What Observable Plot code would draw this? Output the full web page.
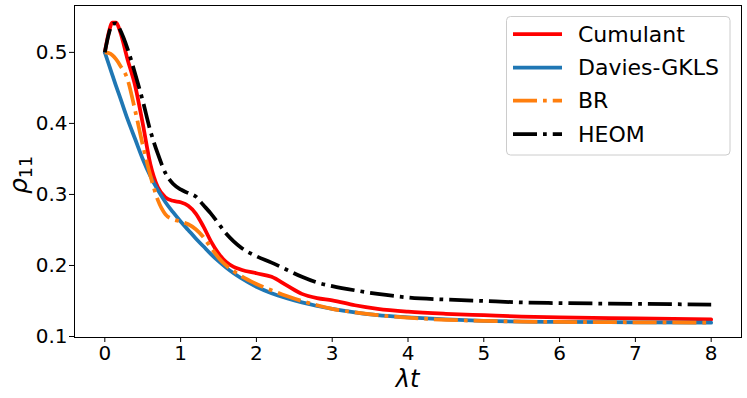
<!DOCTYPE html>
<html>
<head>
<meta charset="utf-8">
<script src="https://cdn.jsdelivr.net/npm/d3@7"></script>
<script src="https://cdn.jsdelivr.net/npm/@observablehq/plot@0.6"></script>
<style>
  html, body { margin: 0; padding: 0; background: #fff; }
  #chart { width: 747px; height: 398px; }
  svg { font-family: "DejaVu Sans", sans-serif; }
</style>
</head>
<body>
<div id="chart"></div>
<script>
// time grid (λt)
const tGrid = [0, 0.05, 0.1, 0.15, 0.2, 0.3, 0.4, 0.5, 0.6, 0.7, 0.8, 0.9, 1.0, 1.1, 1.2, 1.3, 1.4, 1.5, 1.6, 1.7, 1.8, 2.0, 2.2, 2.4, 2.6, 2.8, 3.0, 3.3, 3.6, 4.0, 4.5, 5.0, 5.5, 6.0, 7.0, 8.0];

const cumulant = [0.500, 0.527, 0.542, 0.542, 0.530, 0.490, 0.453, 0.400, 0.343, 0.310, 0.296, 0.291, 0.289, 0.284, 0.273, 0.255, 0.234, 0.217, 0.205, 0.198, 0.194, 0.189, 0.184, 0.172, 0.160, 0.154, 0.151, 0.144, 0.139, 0.135, 0.132, 0.130, 0.128, 0.127, 0.1255, 0.124];

const davies = [0.500, 0.484, 0.468, 0.452, 0.437, 0.406, 0.378, 0.350, 0.326, 0.306, 0.289, 0.275, 0.262, 0.250, 0.238, 0.227, 0.216, 0.206, 0.197, 0.189, 0.182, 0.170, 0.161, 0.154, 0.148, 0.143, 0.139, 0.134, 0.130, 0.127, 0.124, 0.122, 0.121, 0.1205, 0.120, 0.1195];

const br = [0.500, 0.499, 0.496, 0.490, 0.482, 0.462, 0.418, 0.370, 0.327, 0.292, 0.272, 0.265, 0.262, 0.258, 0.251, 0.240, 0.225, 0.211, 0.200, 0.192, 0.185, 0.174, 0.165, 0.157, 0.150, 0.144, 0.139, 0.134, 0.130, 0.1265, 0.1235, 0.122, 0.121, 0.1205, 0.120, 0.1195];

const heom = [0.500, 0.525, 0.540, 0.541, 0.532, 0.505, 0.470, 0.432, 0.390, 0.357, 0.330, 0.315, 0.307, 0.302, 0.297, 0.285, 0.273, 0.259, 0.245, 0.234, 0.225, 0.213, 0.204, 0.194, 0.184, 0.176, 0.171, 0.165, 0.160, 0.155, 0.152, 0.150, 0.148, 0.147, 0.146, 0.145];

const xTicks = [0, 1, 2, 3, 4, 5, 6, 7, 8];
const yTicks = [0.1, 0.2, 0.3, 0.4, 0.5];

const seriesNames = ["Cumulant", "Davies-GKLS", "BR", "HEOM"];
const seriesValues = [cumulant, davies, br, heom];
const seriesColors = ["#ff0000", "#1f77b4", "#ff7f0e", "#000000"];
const seriesDash = [null, null, "24,6,3.75,6", "24,6,3.75,6"];

const table = seriesNames.flatMap((name, i) =>
  tGrid.map((t, j) => ({ series: name, t, v: seriesValues[i][j] }))
);

const lineMarks = seriesNames.map((name, i) =>
  Plot.line(table.filter(d => d.series === name), {
    x: "t", y: "v",
    stroke: seriesColors[i],
    strokeWidth: 3.75,
    strokeDasharray: seriesDash[i] || undefined,
    strokeLinecap: seriesDash[i] ? "butt" : "round",
    strokeLinejoin: "round",
    curve: "monotone-x"
  })
);

const chart = Plot.plot({
  width: 747,
  height: 398,
  marginLeft: 74,
  marginRight: 6,
  marginTop: 5,
  marginBottom: 61,
  style: { fontFamily: "DejaVu Sans", fontSize: "20px", background: "#fff", overflow: "visible" },
  x: { domain: [-0.4, 8.4], label: null },
  y: { domain: [0.0986, 0.566], label: null },
  marks: [
    ...lineMarks,
    Plot.frame({ stroke: "#000", strokeWidth: 1 }),
    Plot.axisX(xTicks, { tickSize: 5, tickPadding: 3, fontSize: 20, label: null, stroke: "#000" }),
    Plot.axisY(yTicks, { tickSize: 5, tickPadding: 2, fontSize: 20, label: null, tickFormat: d => d.toFixed(1), stroke: "#000" })
  ]
});

document.getElementById("chart").appendChild(chart);

const svg = d3.select(chart);

// axis titles
svg.append("text")
  .attr("x", 407.5).attr("y", 387)
  .attr("text-anchor", "middle")
  .attr("font-size", 24)
  .attr("font-style", "italic")
  .attr("fill", "#000")
  .text("λt");

const yl = svg.append("text")
  .attr("transform", "translate(27,175) rotate(-90)")
  .attr("text-anchor", "middle")
  .attr("fill", "#000")
  .attr("font-size", 25);
yl.append("tspan").attr("font-style", "italic").text("ρ");
yl.append("tspan").attr("font-size", 17.5).attr("dy", 5).text("11");

// legend
const lg = svg.append("g").attr("text-anchor", "start");
lg.append("rect")
  .attr("x", 506.5).attr("y", 16.5).attr("width", 223.5).attr("height", 138.5)
  .attr("rx", 4)
  .attr("fill", "#fff").attr("fill-opacity", 0.8)
  .attr("stroke", "#cccccc").attr("stroke-width", 1);
const rowY = [34, 67.5, 100.5, 134];
seriesNames.forEach((name, i) => {
  const ln = lg.append("line")
    .attr("x1", 513).attr("x2", 562)
    .attr("y1", rowY[i]).attr("y2", rowY[i])
    .attr("stroke", seriesColors[i])
    .attr("stroke-width", 3.75)
    .attr("stroke-linecap", "butt");
  if (seriesDash[i]) ln.attr("stroke-dasharray", seriesDash[i]);
  lg.append("text")
    .attr("x", 578).attr("y", rowY[i])
    .attr("dy", "0.36em")
    .attr("text-anchor", "start")
    .attr("font-size", 22)
    .attr("fill", "#000")
    .text(name);
});
</script>
</body>
</html>
